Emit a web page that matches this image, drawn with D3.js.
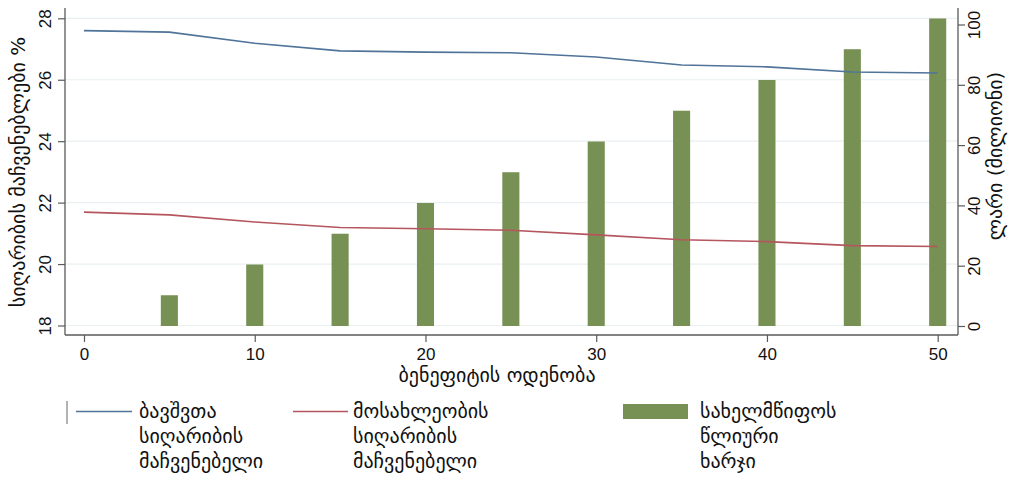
<!DOCTYPE html>
<html><head><meta charset="utf-8">
<script src="https://cdn.jsdelivr.net/npm/d3@7"></script>
<style>body{margin:0;background:#fff}svg{display:block}</style>
</head><body>
<svg id="c" width="1011" height="481"></svg>
<script>
const benefit = [0,5,10,15,20,25,30,35,40,45,50];
const childPoverty = [27.6,27.55,27.19,26.94,26.9,26.88,26.74,26.48,26.42,26.25,26.22];
const popPoverty = [21.69,21.6,21.37,21.19,21.15,21.1,20.95,20.79,20.73,20.6,20.57];
const barX = [5,10,15,20,25,30,35,40,45,50];
const cost = [10.2,20.4,30.6,40.8,51,61.2,71.4,81.6,91.8,102];
const leftTicks = [18,20,22,24,26,28];
const rightTicks = [0,20,40,60,80,100];
const xTicks = [0,10,20,30,40,50];
const labels = {
  left: "სიღარიბის მაჩვენებლები %",
  right: "ლარი (მილიონი)",
  x: "ბენეფიტის ოდენობა",
  child: ["ბავშვთა","სიღარიბის","მაჩვენებელი"],
  pop: ["მოსახლეობის","სიღარიბის","მაჩვენებელი"],
  cost: ["სახელმწიფოს","წლიური","ხარჯი"]
};

const svg = d3.select("#c");
const x = d3.scaleLinear().domain([0,50]).range([84,937.7]);
const yL = d3.scaleLinear().domain([18,28]).range([325.5,18.3]);
const yR = d3.scaleLinear().domain([0,100]).range([326,24.5]);
const L = 65, R = 958, B = 335, T = 8;
const axisCol = "#5a5a5a";
const numFont = "Liberation Sans, Arial, sans-serif";
const geoFont = "DejaVu Sans, sans-serif";
const geoSize = "20px";

// gridlines
svg.append("g").selectAll("line").data(leftTicks).join("line")
  .attr("x1",L).attr("x2",R).attr("y1",d=>yL(d)).attr("y2",d=>yL(d))
  .attr("stroke","#e8f0f2").attr("stroke-width",1.2);

// bars
const bw = x(1)-x(0);
svg.append("g").selectAll("rect").data(barX).join("rect")
  .attr("x",(d)=>x(d)-bw/2).attr("width",bw)
  .attr("y",(d,i)=>yR(cost[i])).attr("height",(d,i)=>yR(0)-yR(cost[i]))
  .attr("fill","#779053");

// lines
const lineL = (vals)=>d3.line().x((d,i)=>x(benefit[i])).y(d=>yL(d))(vals);
svg.append("path").attr("d",lineL(childPoverty)).attr("fill","none").attr("stroke","#4f7399").attr("stroke-width",1.6);
svg.append("path").attr("d",lineL(popPoverty)).attr("fill","none").attr("stroke","#b5555d").attr("stroke-width",1.6);

// axes
const gl = svg.append("g").attr("transform",`translate(${L},0)`).call(d3.axisLeft(yL).tickValues(leftTicks).tickSize(7).tickSizeOuter(0).tickFormat(d3.format("d")));
gl.select(".domain").attr("d",`M0,${T}V${B}`);
gl.selectAll("text").attr("transform","rotate(-90,-20,0)").attr("x",-20).attr("dy","0.35em").attr("y",0)
  .style("text-anchor","middle");
const gr = svg.append("g").attr("transform",`translate(${R},0)`).call(d3.axisRight(yR).tickValues(rightTicks).tickSize(7).tickSizeOuter(0));
gr.select(".domain").attr("d",`M0,${T}V${B}`);
gr.selectAll("text").attr("x",16).attr("y",0).attr("dy","0.35em").attr("transform","rotate(-90,16,0)").style("text-anchor","middle");
const gb = svg.append("g").attr("transform",`translate(0,${B})`).call(d3.axisBottom(x).tickValues(xTicks).tickSize(7).tickSizeOuter(0));
gb.select(".domain").attr("d",`M${L},0H${R}`);
gb.selectAll("text").attr("y",13);
[gl,gr,gb].forEach(g=>{
  g.select(".domain").attr("stroke",axisCol).attr("stroke-width",1.3);
  g.selectAll(".tick line").attr("stroke",axisCol).attr("stroke-width",1.2);
  g.selectAll("text").attr("fill","#111").style("font-family",numFont).style("font-size","17px");
});

// titles
svg.append("text").attr("transform","translate(25,172) rotate(-90)").attr("text-anchor","middle")
  .style("font-family",geoFont).style("font-size",geoSize).attr("fill","#111").text(labels.left);
svg.append("text").attr("transform","translate(1002,156) rotate(-90)").attr("text-anchor","middle")
  .style("font-family",geoFont).style("font-size",geoSize).attr("fill","#111").text(labels.right);
svg.append("text").attr("x",497).attr("y",382).attr("text-anchor","middle")
  .style("font-family",geoFont).style("font-size",geoSize).attr("fill","#111").text(labels.x);

// legend
svg.append("line").attr("x1",67).attr("x2",67).attr("y1",401).attr("y2",424).attr("stroke","#999").attr("stroke-width",1.5);
function legText(xp, lines){
  const t = svg.append("text").attr("x",xp).attr("y",418).style("font-family",geoFont).style("font-size",geoSize).attr("fill","#111");
  lines.forEach((s,i)=>t.append("tspan").attr("x",xp).attr("dy",i?25:0).text(s));
}
svg.append("line").attr("x1",76).attr("x2",132).attr("y1",411.5).attr("y2",411.5).attr("stroke","#4f7399").attr("stroke-width",1.6);
legText(139,labels.child);
svg.append("line").attr("x1",293).attr("x2",348).attr("y1",411.5).attr("y2",411.5).attr("stroke","#b5555d").attr("stroke-width",1.6);
legText(353,labels.pop);
svg.append("rect").attr("x",623).attr("y",404).attr("width",65).attr("height",15).attr("fill","#779053");
legText(700,labels.cost);
</script>
</body></html>
